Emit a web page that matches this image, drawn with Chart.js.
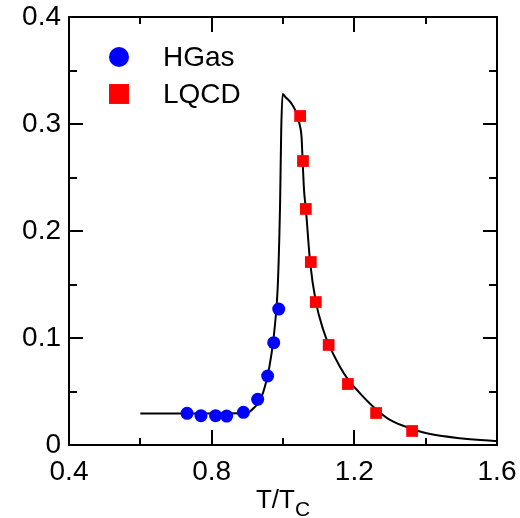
<!DOCTYPE html>
<html>
<head>
<meta charset="utf-8">
<script src="https://cdn.jsdelivr.net/npm/chart.js@4"></script>
<style>
  html, body { margin: 0; padding: 0; background: #fff; }
  #wrap { width: 520px; height: 518px; position: relative; }
</style>
</head>
<body>
<div id="wrap"><canvas id="chart"></canvas></div>
<script>
// model curve
const curveT = [0.6, 0.767, 0.898, 0.917, 0.936, 0.954, 0.968, 0.978, 0.986, 0.992, 0.995, 0.999,
                1.006, 1.024, 1.038, 1.048, 1.052, 1.055, 1.059, 1.064, 1.076, 1.092, 1.113, 1.127,
                1.16, 1.183, 1.216, 1.253, 1.3, 1.365, 1.403, 1.496, 1.6];
const curveY = [0.0295, 0.0294, 0.0296, 0.0343, 0.042, 0.0607, 0.0857, 0.114, 0.154, 0.229, 0.294, 0.328,
                0.3255, 0.319, 0.310, 0.2975, 0.288, 0.266, 0.238, 0.221, 0.171, 0.134, 0.1075, 0.095,
                0.073, 0.061, 0.0483, 0.0358, 0.0234, 0.0147, 0.0109, 0.0063, 0.0037];

// hadron gas points
const hgasT = [0.731, 0.770, 0.811, 0.842, 0.889, 0.929, 0.957, 0.974, 0.988];
const hgasY = [0.0296, 0.0274, 0.0274, 0.027, 0.0305, 0.0427, 0.0645, 0.0956, 0.127];

// lattice QCD points
const lqcdT = [1.048, 1.056, 1.064, 1.078, 1.092, 1.128, 1.182, 1.261, 1.362];
const lqcdY = [0.3075, 0.2654, 0.2206, 0.171, 0.1336, 0.0935, 0.057, 0.0299, 0.0131];

const seriesNames = ['HGas', 'LQCD'];
const xTicks = [0.4, 0.8, 1.2, 1.6];
const yTicks = [0, 0.1, 0.2, 0.3, 0.4];
const xTickLabels = ['0.4', '0.8', '1.2', '1.6'];
const yTickLabels = ['0', '0.1', '0.2', '0.3', '0.4'];

const FONT = '"Liberation Sans", Arial, sans-serif';
const pts = (xs, ys) => xs.map((x, i) => ({ x: x, y: ys[i] }));

// box frame with inward ticks on all four sides
const frameTicks = {
  id: 'frameTicks',
  afterDatasetsDraw(chart) {
    const { ctx, chartArea: a, scales } = chart;
    const sx = scales.x, sy = scales.y;
    ctx.save();
    ctx.strokeStyle = '#000';
    ctx.lineWidth = 2;
    ctx.beginPath();
    const tx = (v, len) => {
      const p = Math.round(sx.getPixelForValue(v));
      ctx.moveTo(p, a.bottom); ctx.lineTo(p, a.bottom - len);
      ctx.moveTo(p, a.top); ctx.lineTo(p, a.top + len);
    };
    const ty = (v, len) => {
      const p = Math.round(sy.getPixelForValue(v));
      ctx.moveTo(a.left, p); ctx.lineTo(a.left + len, p);
      ctx.moveTo(a.right, p); ctx.lineTo(a.right - len, p);
    };
    for (let i = 0; i < xTicks.length; i++) {
      tx(xTicks[i], 15);
      if (i < xTicks.length - 1) tx((xTicks[i] + xTicks[i + 1]) / 2, 7);
    }
    for (let i = 0; i < yTicks.length; i++) {
      ty(yTicks[i], 14);
      if (i < yTicks.length - 1) ty((yTicks[i] + yTicks[i + 1]) / 2, 8);
    }
    ctx.stroke();
    ctx.strokeRect(a.left, a.top, a.right - a.left, a.bottom - a.top);
    ctx.restore();
  }
};

// legend inside the plot + x title with subscript
const extras = {
  id: 'extras',
  afterDraw(chart) {
    const { ctx, chartArea: a } = chart;
    ctx.save();
    const rows = [
      { ds: chart.data.datasets[0], y: a.top + 40, r: 10 },
      { ds: chart.data.datasets[1], y: a.top + 77, r: 14.1 }
    ];
    rows.forEach(row => {
      ctx.fillStyle = row.ds.backgroundColor;
      ctx.strokeStyle = row.ds.backgroundColor;
      Chart.helpers.drawPoint(ctx, { pointStyle: row.ds.pointStyle, radius: row.r, borderWidth: 0, rotation: 0 }, a.left + 50, row.y);
      ctx.fillStyle = '#000';
      ctx.font = '28px ' + FONT;
      ctx.textBaseline = 'middle';
      ctx.textAlign = 'left';
      ctx.fillText(row.ds.label, a.left + 94, row.y + 1);
    });

    // T/T_C
    ctx.textBaseline = 'alphabetic';
    ctx.font = '26px ' + FONT;
    const w1 = ctx.measureText('T/T').width;
    ctx.font = '21px ' + FONT;
    const w2 = ctx.measureText('C').width;
    const x0 = (a.left + a.right) / 2 - (w1 + w2) / 2;
    ctx.font = '26px ' + FONT;
    ctx.fillText('T/T', x0, a.bottom + 63);
    ctx.font = '21px ' + FONT;
    ctx.fillText('C', x0 + w1, a.bottom + 71);
    ctx.restore();
  }
};

new Chart(document.getElementById('chart').getContext('2d'), {
  type: 'scatter',
  data: {
    datasets: [
      {
        label: seriesNames[0],
        data: pts(hgasT, hgasY),
        pointStyle: 'circle',
        pointRadius: 6.5,
        pointBorderWidth: 0,
        backgroundColor: '#0000ff',
        borderColor: '#0000ff'
      },
      {
        label: seriesNames[1],
        data: pts(lqcdT, lqcdY),
        pointStyle: 'rect',
        pointRadius: 8.3,
        pointBorderWidth: 0,
        backgroundColor: '#ff0000',
        borderColor: '#ff0000'
      },
      {
        label: 'model',
        data: pts(curveT, curveY),
        showLine: true,
        pointRadius: 0,
        borderColor: '#000',
        borderWidth: 2,
        cubicInterpolationMode: 'monotone'
      }
    ]
  },
  options: {
    responsive: true,
    maintainAspectRatio: false,
    animation: false,
    events: [],
    layout: {
      padding: { left: 0, top: 17, right: 23, bottom: 0 }
    },
    plugins: {
      legend: { display: false },
      tooltip: { enabled: false }
    },
    scales: {
      x: {
        type: 'linear',
        min: 0.4,
        max: 1.6,
        afterBuildTicks: s => { s.ticks = xTicks.map(v => ({ value: v })); },
        afterFit: s => { s.height = 73; s.paddingLeft = 0; s.paddingRight = 0; },
        grid: { display: false, drawTicks: false },
        border: { display: false },
        ticks: {
          padding: 10,
          color: '#000',
          font: { family: FONT, size: 28 },
          maxRotation: 0,
          callback: (v, i) => xTickLabels[i]
        }
      },
      y: {
        type: 'linear',
        min: 0,
        max: 0.4,
        afterBuildTicks: s => { s.ticks = yTicks.map(v => ({ value: v })); },
        afterFit: s => { s.width = 69; s.paddingTop = 0; s.paddingBottom = 0; },
        grid: { display: false, drawTicks: false },
        border: { display: false },
        ticks: {
          padding: 8,
          color: '#000',
          font: { family: FONT, size: 28 },
          callback: (v, i) => yTickLabels[i]
        }
      }
    }
  },
  plugins: [frameTicks, extras]
});
</script>
</body>
</html>
